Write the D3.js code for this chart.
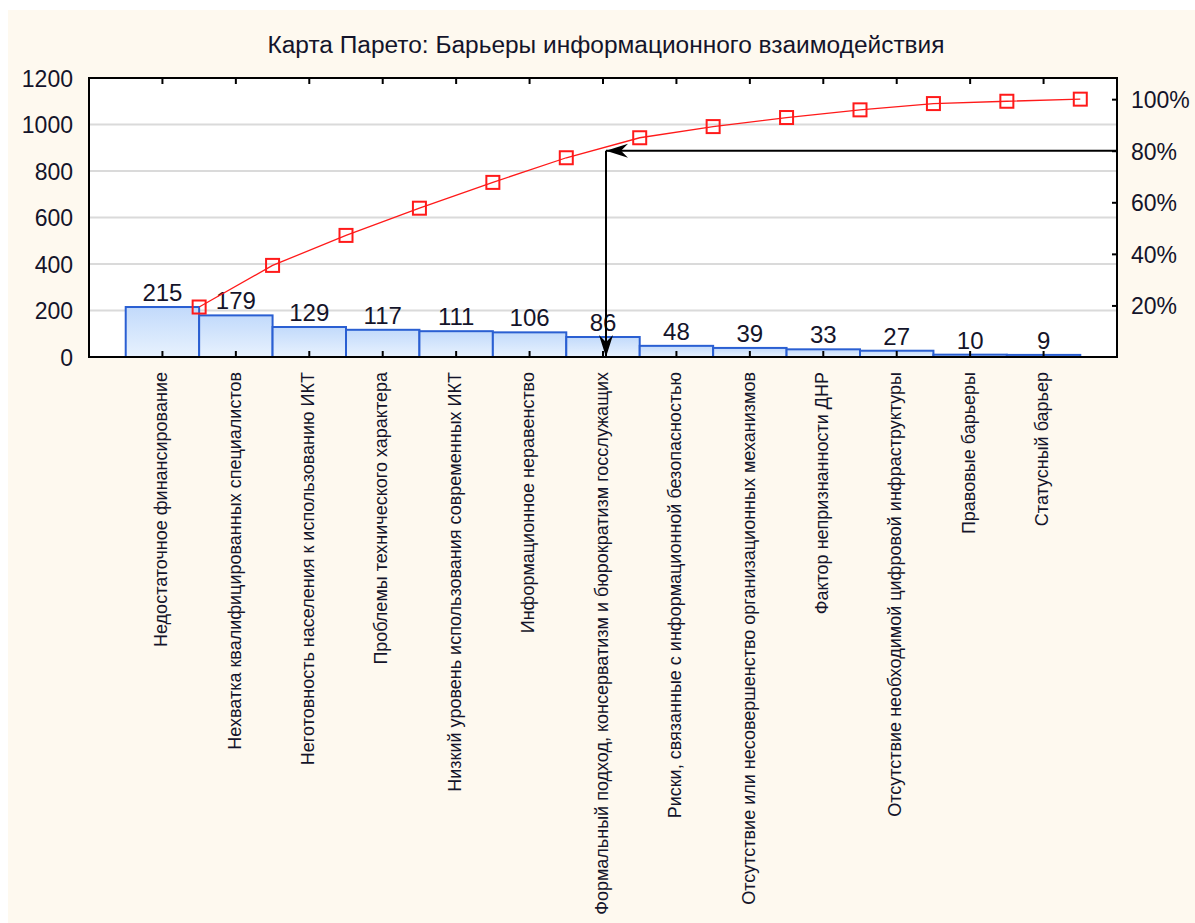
<!DOCTYPE html>
<html lang="ru">
<head>
  <meta charset="UTF-8" />
  <title>Карта Парето</title>
  <script src="https://d3js.org/d3.v7.min.js"></script>
  <style>
    html, body {
      margin: 0;
      padding: 0;
      background-color: white;
      overflow: hidden;
    }
    text {
      font-family: Arial, "Liberation Sans", sans-serif;
      fill: #14142a;
    }
  </style>
</head>
<body>
  <svg id="chart" width="1195" height="923"></svg>

  <script>
    const titleText = "Карта Парето: Барьеры информационного взаимодействия";
    const categories = [
      "Недостаточное финансирование",
      "Нехватка квалифицированных специалистов",
      "Неготовность населения к использованию ИКТ",
      "Проблемы технического характера",
      "Низкий уровень использования современных ИКТ",
      "Информационное неравенство",
      "Формальный подход, консерватизм и бюрократизм госслужащих",
      "Риски, связанные с информационной безопасностью",
      "Отсутствие или несовершенство организационных механизмов",
      "Фактор непризнанности ДНР",
      "Отсутствие необходимой цифровой инфраструктуры",
      "Правовые барьеры",
      "Статусный барьер"
    ];
    const counts = [215, 179, 129, 117, 111, 106, 86, 48, 39, 33, 27, 10, 9];
    const leftTicks = [0, 200, 400, 600, 800, 1000, 1200];
    const rightTicks = [20, 40, 60, 80, 100];
    const cutoffPct = 80;

    const plotLeft = 89, plotRight = 1117, plotTop = 78, plotBottom = 357;
    const svg = d3.select("#chart");

    // cream panel
    svg.append("rect")
      .attr("x", 8).attr("y", 10)
      .attr("width", 1195 - 8).attr("height", 923 - 10)
      .attr("fill", "#fef9ef");

    const defs = svg.append("defs");
    const grad = defs.append("linearGradient")
      .attr("id", "barFill")
      .attr("x1", 0).attr("y1", 0).attr("x2", 0).attr("y2", 1);
    grad.append("stop").attr("offset", "0%").attr("stop-color", "#c2dafb");
    grad.append("stop").attr("offset", "100%").attr("stop-color", "#e8f2fe");

    defs.append("marker")
      .attr("id", "arrow")
      .attr("markerUnits", "userSpaceOnUse")
      .attr("viewBox", "-24 -9 26 18")
      .attr("markerWidth", 26).attr("markerHeight", 18)
      .attr("refX", 0).attr("refY", 0)
      .attr("orient", "auto")
      .append("path")
      .attr("d", "M0,0 L-22,-7 L-15,0 L-22,7 Z")
      .attr("fill", "black");

    const total = d3.sum(counts);
    const cumulative = Array.from(d3.cumsum(counts));

    const x = d3.scaleBand()
      .domain(categories)
      .range([plotLeft, plotRight])
      .paddingInner(0)
      .paddingOuter(0.5);

    const y = d3.scaleLinear().domain([0, 1200]).range([plotBottom, plotTop]);
    const yPct = d3.scaleLinear().domain([0, 100]).range([y(0), y(total)]);

    // plot background
    svg.append("rect")
      .attr("x", plotLeft).attr("y", plotTop)
      .attr("width", plotRight - plotLeft).attr("height", plotBottom - plotTop)
      .attr("fill", "white");

    // grid
    svg.append("g")
      .selectAll("line")
      .data(leftTicks.filter(d => d > 0 && d < 1200))
      .join("line")
      .attr("x1", plotLeft).attr("x2", plotRight)
      .attr("y1", d => y(d)).attr("y2", d => y(d))
      .attr("stroke", "#dadada")
      .attr("stroke-width", 2);

    // bars
    svg.append("g")
      .selectAll("rect")
      .data(counts)
      .join("rect")
      .attr("x", (d, i) => x(categories[i]))
      .attr("y", d => y(d))
      .attr("width", x.bandwidth())
      .attr("height", d => y(0) - y(d))
      .attr("fill", "url(#barFill)")
      .attr("stroke", "#2a5fd2")
      .attr("stroke-width", 2);

    // bar value labels
    svg.append("g")
      .selectAll("text")
      .data(counts)
      .join("text")
      .attr("x", (d, i) => x(categories[i]) + x.bandwidth() / 2)
      .attr("y", d => y(d) - 6)
      .attr("text-anchor", "middle")
      .style("font-size", "24px")
      .text(d => d);

    // inward ticks on top and bottom
    const xTop = d3.axisTop(x).tickSize(-6).tickFormat("");
    svg.append("g")
      .attr("transform", `translate(0,${plotTop})`)
      .call(xTop)
      .call(g => g.select(".domain").remove())
      .call(g => g.selectAll("line").attr("stroke", "black").attr("stroke-width", 2));

    const xBottom = d3.axisBottom(x).tickSize(-6).tickFormat("");
    svg.append("g")
      .attr("transform", `translate(0,${plotBottom})`)
      .call(xBottom)
      .call(g => g.select(".domain").remove())
      .call(g => g.selectAll("line").attr("stroke", "black").attr("stroke-width", 2));

    const yLeft = d3.axisLeft(y).tickValues(leftTicks).tickSize(0).tickPadding(16)
      .tickFormat(d3.format("d"));
    svg.append("g")
      .attr("transform", `translate(${plotLeft},0)`)
      .call(yLeft)
      .call(g => g.select(".domain").remove())
      .call(g => g.selectAll("text")
        .style("font-size", "23px")
        .style("font-family", "Arial, 'Liberation Sans', sans-serif")
        .attr("fill", "#14142a")
        .attr("dy", "0.36em"));

    const yRight = d3.axisRight(yPct).tickValues(rightTicks).tickSize(-5).tickPadding(14)
      .tickFormat(d => d + "%");
    svg.append("g")
      .attr("transform", `translate(${plotRight},0)`)
      .call(yRight)
      .call(g => g.select(".domain").remove())
      .call(g => g.selectAll("line").attr("stroke", "black").attr("stroke-width", 2))
      .call(g => g.selectAll("text")
        .style("font-size", "23px")
        .style("font-family", "Arial, 'Liberation Sans', sans-serif")
        .attr("fill", "#14142a")
        .attr("dy", "0.36em"));

    // category labels, rotated
    svg.append("g")
      .selectAll("text")
      .data(categories)
      .join("text")
      .attr("transform", d => `translate(${x(d) + x.bandwidth() / 2},372) rotate(-90)`)
      .attr("text-anchor", "end")
      .attr("dominant-baseline", "middle")
      .style("font-size", "18px")
      .text(d => d);

    // cumulative line
    const pts = cumulative.map((c, i) => [x(categories[i]) + x.bandwidth(), y(c)]);
    svg.append("path")
      .datum(pts)
      .attr("d", d3.line())
      .attr("fill", "none")
      .attr("stroke", "#ff1a1a")
      .attr("stroke-width", 1.3);

    svg.append("g")
      .selectAll("rect")
      .data(pts)
      .join("rect")
      .attr("x", d => d[0] - 6.5)
      .attr("y", d => d[1] - 6.5)
      .attr("width", 13).attr("height", 13)
      .attr("fill", "none")
      .attr("stroke", "#ff1a1a")
      .attr("stroke-width", 2);

    // frame
    svg.append("rect")
      .attr("x", plotLeft).attr("y", plotTop)
      .attr("width", plotRight - plotLeft).attr("height", plotBottom - plotTop)
      .attr("fill", "none")
      .attr("stroke", "black")
      .attr("stroke-width", 2);

    // 80% cutoff arrows
    const cutIdx = cumulative.findIndex(c => c / total * 100 >= cutoffPct);
    const cutX = x(categories[cutIdx]) + x.bandwidth() / 2 + 3;
    const cutY = yPct(cutoffPct);
    svg.append("line")
      .attr("x1", plotRight).attr("y1", cutY)
      .attr("x2", cutX).attr("y2", cutY)
      .attr("stroke", "black").attr("stroke-width", 2)
      .attr("marker-end", "url(#arrow)");
    svg.append("line")
      .attr("x1", cutX).attr("y1", cutY)
      .attr("x2", cutX).attr("y2", plotBottom)
      .attr("stroke", "black").attr("stroke-width", 2)
      .attr("marker-end", "url(#arrow)");

    // title
    svg.append("text")
      .attr("x", 606)
      .attr("y", 53)
      .attr("text-anchor", "middle")
      .attr("textLength", 677)
      .attr("lengthAdjust", "spacingAndGlyphs")
      .style("font-size", "23px")
      .text(titleText);
  </script>
</body>
</html>
